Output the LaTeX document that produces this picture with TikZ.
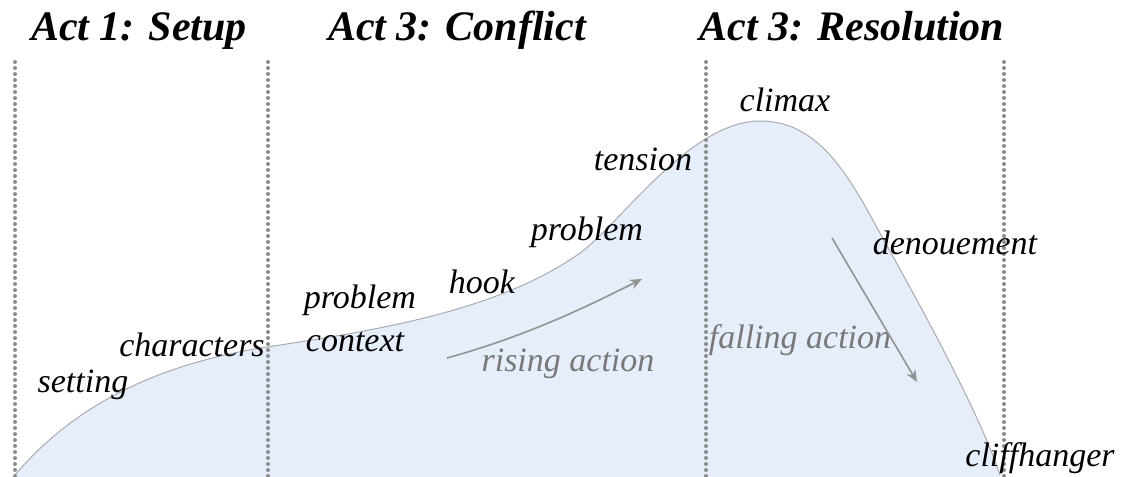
\documentclass[tikz,border=0pt]{standalone}
\usepackage{xcolor}
\usepackage{fontspec}
\setmainfont{Liberation Serif}
\usetikzlibrary{arrows.meta}
\definecolor{arcfill}{RGB}{230, 238, 252}
\definecolor{arcline}{RGB}{170, 170, 175}
\definecolor{actline}{RGB}{140, 140, 140}
\definecolor{flowgray}{RGB}{120, 120, 120}

\tikzset{
    actlabel/.style={font=\fontsize{21}{24}\selectfont\bfseries\itshape, anchor=base},
    beat/.style={font=\fontsize{17}{20}\selectfont\itshape, inner sep=0pt},
    flowlabel/.style={beat, text=flowgray},
    actsep/.style={actline, line width=2pt, line cap=round, dash pattern=on 0pt off 3pt},
    flowarrow/.style={flowgray!80, line width=0.8pt, -{Stealth[length=6pt, width=5pt]}}
}

\begin{document}
\begin{tikzpicture}[x=0.5pt, y=-0.5pt]
        \useasboundingbox (0,0) rectangle (1121,477);

        % Story arc
        \fill[arcfill] (15,477) -- (15,475)
            .. controls (70,410) and (150,365) .. (267,347)
            .. controls (380,330) and (500,310) .. (580,253)
            .. controls (620,224) and (690,121) .. (760,121)
            .. controls (810,121) and (840,160) .. (870,215)
            .. controls (900,270) and (975,400) .. (1000,475) -- (1000,477) -- cycle;
        \draw[arcline, line width=0.5pt] (15,475)
            .. controls (70,410) and (150,365) .. (267,347)
            .. controls (380,330) and (500,310) .. (580,253)
            .. controls (620,224) and (690,121) .. (760,121)
            .. controls (810,121) and (840,160) .. (870,215)
            .. controls (900,270) and (975,400) .. (1000,475);

        % Act separators
        \foreach \x in {15, 268, 706, 1004} {
            \draw[actsep] (\x,62) -- (\x,477);
        }

        % Act headings
        \node[actlabel] (setup) at (139,40) {Act 1: Setup};
        \node[actlabel] (conflict) at (457,40) {Act 3: Conflict};
        \node[actlabel] (resolution) at (852,40) {Act 3: Resolution};

        % Story beats
        \node[beat] (setting) at (83,385) {setting};
        \node[beat] (characters) at (192,345) {characters};
        \node[beat] (problemA) at (360,300) {problem};
        \node[beat] (context) at (355,342) {context};
        \node[beat] (hook) at (482,282) {hook};
        \node[beat] (problemB) at (587,232) {problem};
        \node[beat] (tension) at (643,159) {tension};
        \node[beat] (climax) at (785,100) {climax};
        \node[beat] (denouement) at (955,243) {denouement};
        \node[beat] (cliffhanger) at (1040,458) {cliffhanger};

        % Rising and falling action
        \node[flowlabel] (rising) at (568,364) {rising action};
        \node[flowlabel] (falling) at (800,340) {falling action};
        \coordinate (riseStart) at (447,358);
        \coordinate (riseEnd) at (642,279);
        \coordinate (fallStart) at (832,238);
        \coordinate (fallEnd) at (917,382);
        \draw[flowarrow] (riseStart) .. controls (530,335) and (590,305) .. (riseEnd);
        \draw[flowarrow] (fallStart) -- (fallEnd);
    \end{tikzpicture}
\end{document}
